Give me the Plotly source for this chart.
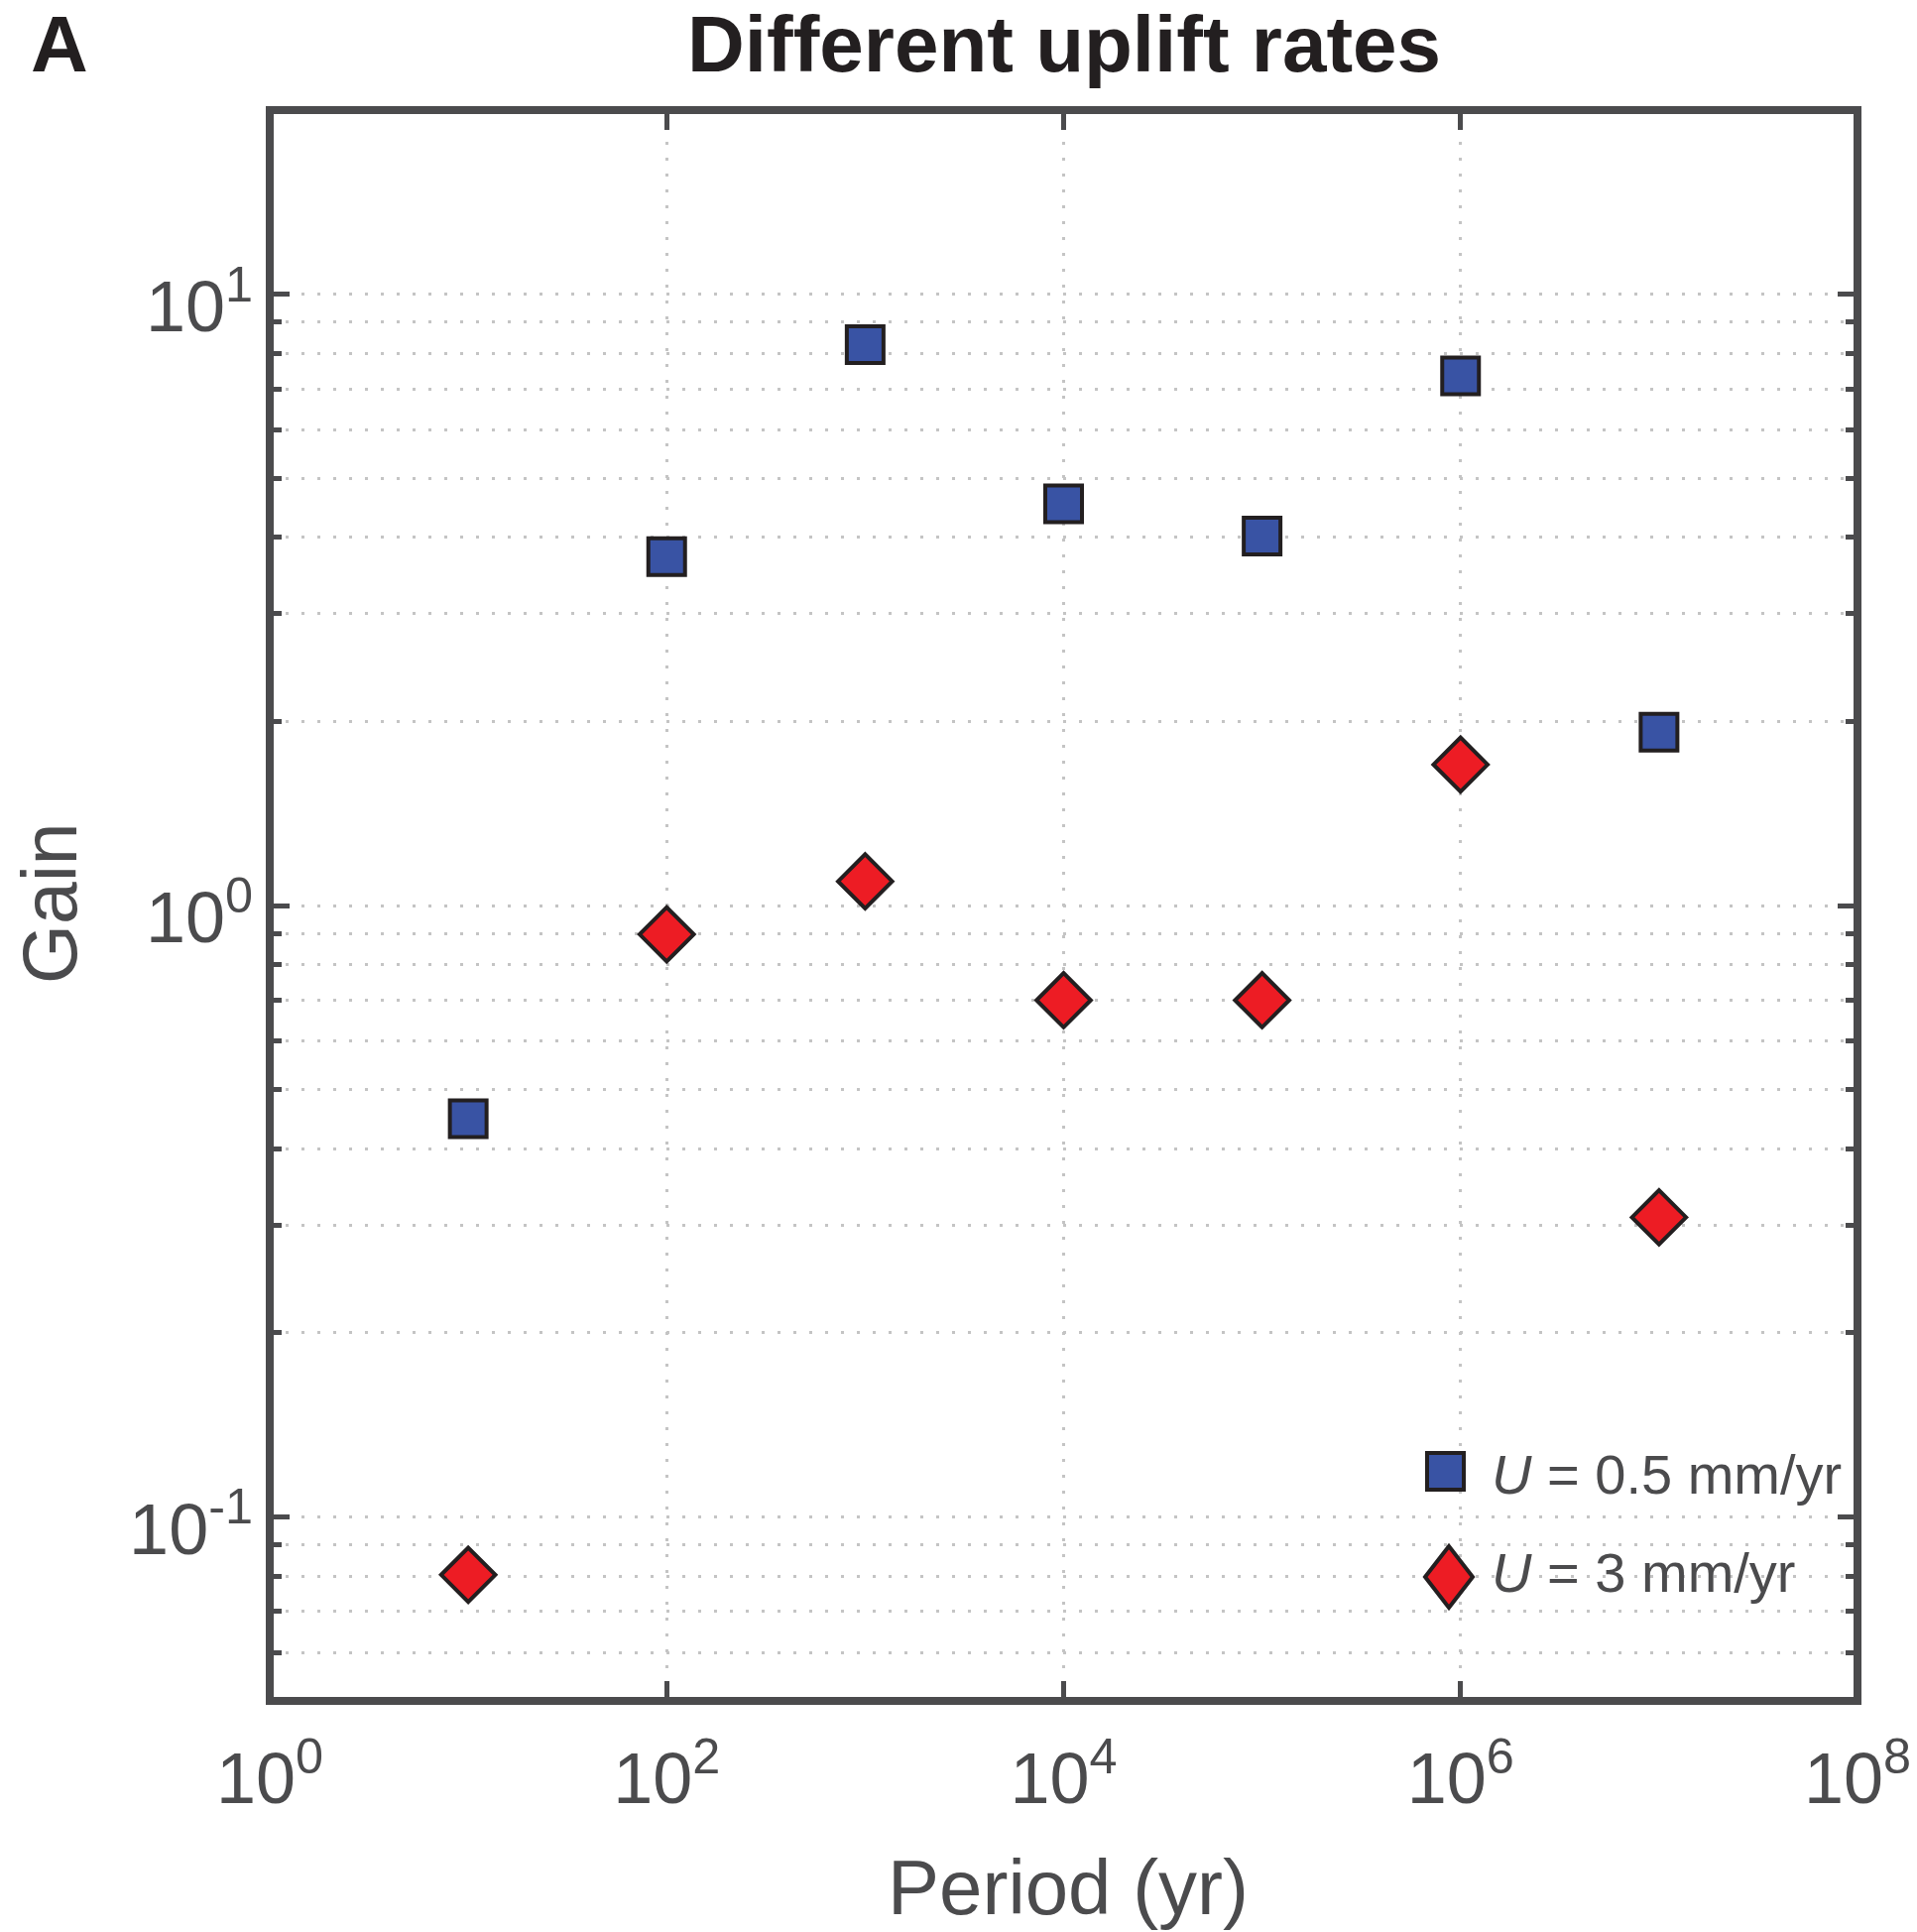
import plotly.graph_objects as go

# ---- data ----
period = [1e1, 1e2, 1e3, 1e4, 1e5, 1e6, 1e7]
gain_u05 = [0.448, 3.72, 8.27, 4.54, 4.02, 7.35, 1.92]
gain_u3 = [0.0804, 0.897, 1.095, 0.70, 0.70, 1.70, 0.309]
series_names = ["U = 0.5 mm/yr", "U = 3 mm/yr"]
legend_labels = ["<i>U</i> = 0.5 mm/yr", "<i>U</i> = 3 mm/yr"]

x_tickvals = [1e0, 1e2, 1e4, 1e6, 1e8]
x_ticktext = ["10<sup>0</sup>", "10<sup>2</sup>", "10<sup>4</sup>", "10<sup>6</sup>", "10<sup>8</sup>"]
y_tickvals = [0.1, 1, 10]
y_ticktext = ["10<sup>-1</sup>", "10<sup>0</sup>", "10<sup>1</sup>"]
y_minor = [0.06, 0.07, 0.08, 0.09,
           0.2, 0.3, 0.4, 0.5, 0.6, 0.7, 0.8, 0.9,
           2, 3, 4, 5, 6, 7, 8, 9]

title_text = "Different uplift rates"
panel_label = "A"
x_title = "Period (yr)"
y_title = "Gain"

# ---- style ----
W, H = 1933, 1948
L, R, T, B = 272, 1873, 111, 1715
PW, PH = R - L, B - T
FONT = "Liberation Sans, Arial, Helvetica, sans-serif"
AX = "#4b4b4d"
BLUE = "#3953a4"
RED = "#ed1c24"
EDGE = "#231f20"
GRID = "#c4c4c4"
DASH = "3px,13px"


def px_x(px):
    return (px - L) / PW


def px_y(py):
    return (B - py) / PH


fig = go.Figure()
fig.add_trace(go.Scatter(
    x=period, y=gain_u05, mode="markers", name=series_names[0],
    marker=dict(symbol="square", size=37, color=BLUE, line=dict(color=EDGE, width=4)),
))
fig.add_trace(go.Scatter(
    x=period, y=gain_u3, mode="markers", name=series_names[1],
    marker=dict(symbol="diamond", size=42, color=RED, line=dict(color=EDGE, width=4)),
))

axis_common = dict(
    type="log", showline=False, zeroline=False, mirror="allticks",
    ticks="inside", ticklen=20, tickwidth=5, tickcolor=AX,
    showgrid=True, gridcolor=GRID, gridwidth=2.5, griddash=DASH,
    tickfont=dict(family=FONT, size=72, color=AX),
    tickmode="array",
)

fig.update_xaxes(
    **axis_common,
    range=[0, 8], tickvals=x_tickvals, ticktext=x_ticktext,
    ticklabelstandoff=30,
)
fig.update_yaxes(
    **axis_common,
    range=[-1.30103, 1.30103], tickvals=y_tickvals, ticktext=y_ticktext,
    ticklabelstandoff=16, ticklabelshift=12,
    minor=dict(tickmode="array", tickvals=y_minor, ticks="inside", ticklen=12,
               tickwidth=5, tickcolor=AX, showgrid=True, gridcolor=GRID,
               gridwidth=2.5, griddash=DASH),
)

shapes = [
    dict(type="rect", xref="paper", yref="paper", x0=0, x1=1, y0=0, y1=1,
         line=dict(color=AX, width=8), fillcolor="rgba(0,0,0,0)", layer="above"),
    # legend keys
    dict(type="rect", xref="paper", yref="paper",
         x0=px_x(1439), x1=px_x(1476), y0=px_y(1502), y1=px_y(1465),
         line=dict(color=EDGE, width=4), fillcolor=BLUE, layer="above"),
]
cx, cy, hw, hh = 1461, 1590, 24, 31
shapes.append(dict(
    type="path", xref="paper", yref="paper",
    path=(f"M {px_x(cx-hw)},{px_y(cy)} L {px_x(cx)},{px_y(cy-hh)} "
          f"L {px_x(cx+hw)},{px_y(cy)} L {px_x(cx)},{px_y(cy+hh)} Z"),
    line=dict(color=EDGE, width=4), fillcolor=RED, layer="above"))

annotations = [
    dict(text=f"<b>{title_text}</b>", x=0.5, y=px_y(44), xref="paper", yref="paper",
         xanchor="center", yanchor="middle", showarrow=False,
         font=dict(family=FONT, size=80, color=EDGE)),
    dict(text=f"<b>{panel_label}</b>", x=px_x(29), y=px_y(44), xref="paper", yref="paper",
         xanchor="left", yanchor="middle", showarrow=False,
         font=dict(family=FONT, size=80, color=EDGE)),
    dict(text=x_title, x=px_x(1077), y=px_y(1903), xref="paper", yref="paper",
         xanchor="center", yanchor="middle", showarrow=False,
         font=dict(family=FONT, size=78, color=AX)),
    dict(text=y_title, x=px_x(50), y=px_y(910), xref="paper", yref="paper",
         xanchor="center", yanchor="middle", showarrow=False, textangle=-90,
         font=dict(family=FONT, size=77, color=AX)),
    dict(text=legend_labels[0], x=px_x(1502), y=px_y(1486), xref="paper", yref="paper",
         xanchor="left", yanchor="middle", showarrow=False,
         font=dict(family=FONT, size=56, color=AX)),
    dict(text=legend_labels[1], x=px_x(1502), y=px_y(1585), xref="paper", yref="paper",
         xanchor="left", yanchor="middle", showarrow=False,
         font=dict(family=FONT, size=56, color=AX)),
]

fig.update_layout(
    width=W, height=H,
    margin=dict(l=L, r=W - R, t=T, b=H - B, autoexpand=False),
    paper_bgcolor="white", plot_bgcolor="white",
    showlegend=False,
    shapes=shapes, annotations=annotations,
    font=dict(family=FONT, color=AX),
)

fig.write_html("out.html")
